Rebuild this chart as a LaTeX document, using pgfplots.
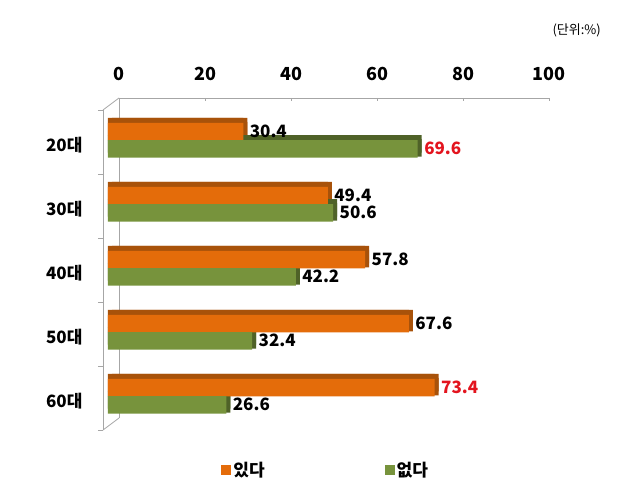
\documentclass[border=0pt]{standalone}
\usepackage{fontspec}
\setmainfont{Noto Sans CJK KR}
\usepackage{pgfplots}
\usepackage{pgfplotstable}
\pgfplotsset{compat=1.18}
\definecolor{orF}{HTML}{E46C0A}
\definecolor{orD}{HTML}{A8520A}
\definecolor{grF}{HTML}{77933C}
\definecolor{grD}{HTML}{4F6228}
\definecolor{labred}{HTML}{E3141E}
\definecolor{axgray}{HTML}{A6A6A6}
\pgfplotstableread{
cat yes no yred nred
0 30.4 69.6 0 1
1 49.4 50.6 0 0
2 57.8 42.2 0 0
3 67.6 32.4 0 0
4 73.4 26.6 1 0
}\datatab
\begin{document}
\begin{tikzpicture}
\useasboundingbox (0pt,0pt) rectangle (640pt,499pt);
\node[anchor=east, inner sep=0pt, font=\fontsize{13}{15}\selectfont] at (601pt,469pt) {(단위:\%)};
% back plane
\begin{axis}[at={(119pt,81pt)}, anchor=south west, scale only axis,
  width=430pt, height=320pt,
  xmin=0, xmax=100, ymin=0, ymax=1,
  axis x line*=top, axis y line*=left, ytick=\empty,
  xtick={0,20,...,100}, tick align=inside, major tick length=3pt,
  axis line style={axgray, line width=0.8pt}, tick style={axgray},
  /pgf/number format/assume math mode=true,
  xticklabel style={font=\fontsize{18}{21}\selectfont\bfseries, yshift=14pt},
]
\end{axis}
\draw[axgray, line width=0.8pt] (103pt,389pt) -- (119pt,401pt);
\draw[axgray, line width=0.8pt] (103pt,69pt) -- (119pt,81pt);
% front plane
\begin{axis}[at={(103pt,69pt)}, anchor=south west, scale only axis,
  width=450pt, height=320pt,
  xmin=-1.12, xmax=100, ymin=-0.5, ymax=4.5, y dir=reverse,
  axis x line=none, axis y line*=left,
  axis line style={axgray, line width=0.8pt},
  ytick={0,...,4}, yticklabels={20대,30대,40대,50대,60대},
  major tick length=0pt,
  minor ytick={-0.5,0.5,...,4.5}, minor tick length=5pt, tick align=outside,
  minor tick style={axgray, line width=0.8pt},
  yticklabel style={font=\fontsize{17}{20}\selectfont\bfseries, xshift=-17pt, yshift=-3pt},
  xbar, bar width=17.5pt,
  /pgf/number format/.cd, fixed, fixed zerofill, precision=1, assume math mode=true, /pgfplots/.cd,
  legend style={at={(0.495,-0.125)}, anchor=center, draw=none, fill=none,
    legend columns=2, font=\fontsize{17}{20}\selectfont\bfseries,
    /tikz/every even column/.append style={column sep=118pt}},
  legend image code/.code={\fill[#1, draw=none] (0pt,-5pt) rectangle (10pt,5pt);},
  every node near coord/.append style={font=\fontsize{17}{20}\selectfont\bfseries, xshift=3pt},
]
% dark top / side faces (same data, offset copies)
\addplot[forget plot, fill=orD, draw=none, bar shift=10.5pt, xshift=0pt, yshift=5pt]
  table[x=yes, y=cat]{\datatab};
\addplot[forget plot, fill=orD, draw=none, bar shift=10.5pt, xshift=4pt, yshift=5pt]
  table[x=yes, y=cat]{\datatab};
\addplot[forget plot, fill=orD, draw=none, bar shift=10.5pt, xshift=4pt, yshift=1pt]
  table[x=yes, y=cat]{\datatab};
\addplot[forget plot, fill=grD, draw=none, bar shift=-6.75pt, xshift=0pt, yshift=5pt]
  table[x=no, y=cat]{\datatab};
\addplot[forget plot, fill=grD, draw=none, bar shift=-6.75pt, xshift=4pt, yshift=5pt]
  table[x=no, y=cat]{\datatab};
\addplot[forget plot, fill=grD, draw=none, bar shift=-6.75pt, xshift=4pt, yshift=1pt]
  table[x=no, y=cat]{\datatab};
% front faces
\addplot[fill=orF, draw=none, bar shift=10.5pt,
  visualization depends on={\thisrow{yred} \as \isred},
  nodes near coords={\ifdim\isred pt>0.5pt\color{labred}\fi\pgfmathprintnumber{\pgfplotspointmeta}}]
  table[x=yes, y=cat]{\datatab};
\addlegendentry{있다}
\addplot[fill=grF, draw=none, bar shift=-6.75pt,
  visualization depends on={\thisrow{nred} \as \isred},
  nodes near coords={\ifdim\isred pt>0.5pt\color{labred}\fi\pgfmathprintnumber{\pgfplotspointmeta}}]
  table[x=no, y=cat]{\datatab};
\addlegendentry{없다}
\end{axis}
\end{tikzpicture}
\end{document}
